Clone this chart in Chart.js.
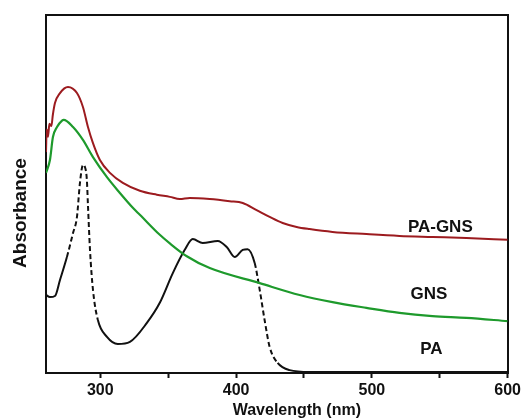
<!DOCTYPE html>
<html>
<head>
<meta charset="utf-8">
<script src="https://cdn.jsdelivr.net/npm/chart.js@4/dist/chart.umd.min.js"></script>
<style>
  body { margin: 0; background: #fff; }
</style>
</head>
<body>
<canvas id="chart" width="524" height="420"></canvas>
<script>
// wavelength (nm) / absorbance (arb. units)
const paGnsWl  = [260, 260.5, 261.5, 262.5, 264, 265, 266.6, 270.3, 276.2, 282.8, 287.2, 290.9, 294.6, 299.7, 307.1, 316.6, 329.1, 341.6, 351.2, 358.5, 365.9, 380.6, 395.3, 404.9, 415.1, 424.7, 434.3, 444.6, 454.1, 471, 496, 520.3, 544.6, 569.6, 600];
const paGnsAbs = [61.7, 68, 66, 69.6, 69, 72, 75.4, 78.2, 79.9, 78.2, 74.3, 68.7, 64.2, 59.5, 55.9, 53.1, 50.9, 49.8, 49.2, 48.6, 48.9, 48.6, 48.0, 47.5, 45.5, 43.6, 41.9, 40.8, 40.2, 39.4, 38.8, 38.3, 38.0, 37.7, 37.2];

const gnsWl  = [260, 262.9, 265.1, 268.1, 271.8, 273, 279.9, 287.2, 294.6, 304.9, 314.4, 324.3, 329.1, 343.8, 351.2, 363.7, 380.6, 417.4, 446.8, 471, 496, 520.3, 544.6, 569.6, 600];
const gnsAbs = [55.9, 59.5, 65.9, 68.7, 70.5, 70.7, 68.7, 65.1, 60.3, 54.7, 50.3, 46.0, 44.2, 38.6, 36.2, 32.6, 29.3, 25.1, 21.8, 19.8, 18.2, 16.8, 15.9, 15.4, 14.5];

const paWl  = [260, 262.9, 266.6, 270.3, 275.4, 279.9, 282.8, 285, 287.2, 288.7, 290.1, 290.9, 292.4, 294.6, 298.2, 304.9, 312.9, 321.8, 334.3, 343.8, 353.4, 362.2, 368.1, 375.4, 386.5, 393.1, 399, 404.9, 408.5, 413.7, 417.4, 421, 424.7, 430.6, 439.4, 454.1, 600];
const paAbs = [21.8, 21.2, 21.5, 26.0, 32.4, 39.1, 43.6, 53.1, 58.1, 57.5, 53.9, 46.9, 34.4, 23.2, 14.8, 10.1, 8.1, 8.7, 14.0, 19.6, 27.9, 34.4, 37.4, 36.3, 36.9, 35.2, 32.4, 34.4, 34.6, 30.7, 23.2, 14.8, 7.3, 2.8, 0.8, 0.3, 0.3];

const xTicks = [300, 350, 400, 450, 500, 550, 600];

const seriesNames = ['PA-GNS', 'GNS', 'PA'];
const labelWl  = [550.4, 542, 543.8];
const labelAbs = [40.8, 22.1, 6.7];

// stretches of the PA trace that are printed dashed
const paDashed = [[271, 298], [413, 430]];

function pts(xs, ys) {
  return xs.map((x, i) => ({ x: x, y: ys[i] }));
}

const textPlugin = {
  id: 'texts',
  afterDraw(chart) {
    const ctx = chart.ctx;
    const xs = chart.scales.x, ys = chart.scales.y;
    const area = chart.chartArea;
    ctx.save();
    ctx.fillStyle = '#111';
    ctx.textAlign = 'center';
    ctx.textBaseline = 'middle';
    ctx.font = 'bold 17px "Liberation Sans", Arial, sans-serif';
    seriesNames.forEach((name, i) => {
      ctx.fillText(name, xs.getPixelForValue(labelWl[i]), ys.getPixelForValue(labelAbs[i]));
    });
    ctx.font = 'bold 16px "Liberation Sans", Arial, sans-serif';
    ctx.fillText('Wavelength (nm)', (area.left + area.right) / 2 + 20, 411);
    ctx.translate(21, (area.top + area.bottom) / 2 + 19);
    ctx.rotate(-Math.PI / 2);
    ctx.font = 'bold 19px "Liberation Sans", Arial, sans-serif';
    ctx.fillText('Absorbance', 0, 0);
    ctx.restore();
  }
};

new Chart(document.getElementById('chart'), {
  type: 'line',
  data: {
    datasets: [
      {
        label: 'PA-GNS',
        data: pts(paGnsWl, paGnsAbs),
        borderColor: '#9c1b1f',
        borderWidth: 2,
        pointRadius: 0,
        cubicInterpolationMode: 'monotone',
      },
      {
        label: 'GNS',
        data: pts(gnsWl, gnsAbs),
        borderColor: '#1e9a2c',
        borderWidth: 2.2,
        pointRadius: 0,
        cubicInterpolationMode: 'monotone',
      },
      {
        label: 'PA',
        data: pts(paWl, paAbs),
        borderColor: '#111',
        borderWidth: 2,
        pointRadius: 0,
        cubicInterpolationMode: 'monotone',
        segment: {
          borderDash: c => paDashed.some(r => c.p0.parsed.x >= r[0] && c.p0.parsed.x < r[1]) ? [5, 3] : undefined
        }
      },
    ]
  },
  options: {
    responsive: false,
    animation: false,
    devicePixelRatio: 1,
    layout: { padding: 0 },
    plugins: { legend: { display: false }, tooltip: { enabled: false } },
    scales: {
      x: {
        type: 'linear',
        min: 260,
        max: 600,
        afterBuildTicks: s => { s.ticks = xTicks.map(v => ({ value: v })); },
        afterFit: s => { s.height = 47; },
        grid: { display: true, drawOnChartArea: false, tickLength: 5, tickWidth: 2, tickColor: '#111' },
        border: { display: true, color: '#111', width: 2 },
        ticks: {
          maxRotation: 0,
          autoSkip: false,
          padding: 3,
          color: '#111',
          font: { family: '"Liberation Sans", Arial, sans-serif', size: 16, weight: 'bold' },
          callback: v => (v % 100 === 0 ? v : '')
        }
      },
      x2: {
        type: 'linear',
        position: 'top',
        min: 260,
        max: 600,
        afterFit: s => { s.height = 15; },
        grid: { display: false },
        border: { display: true, color: '#111', width: 2 },
        ticks: { display: false }
      },
      y: {
        min: 0,
        max: 100,
        afterFit: s => { s.width = 46; },
        grid: { display: false },
        border: { display: true, color: '#111', width: 2 },
        ticks: { display: false }
      },
      y2: {
        position: 'right',
        min: 0,
        max: 100,
        afterFit: s => { s.width = 15; },
        grid: { display: false },
        border: { display: true, color: '#111', width: 2 },
        ticks: { display: false }
      }
    }
  },
  plugins: [textPlugin]
});
</script>
</body>
</html>
